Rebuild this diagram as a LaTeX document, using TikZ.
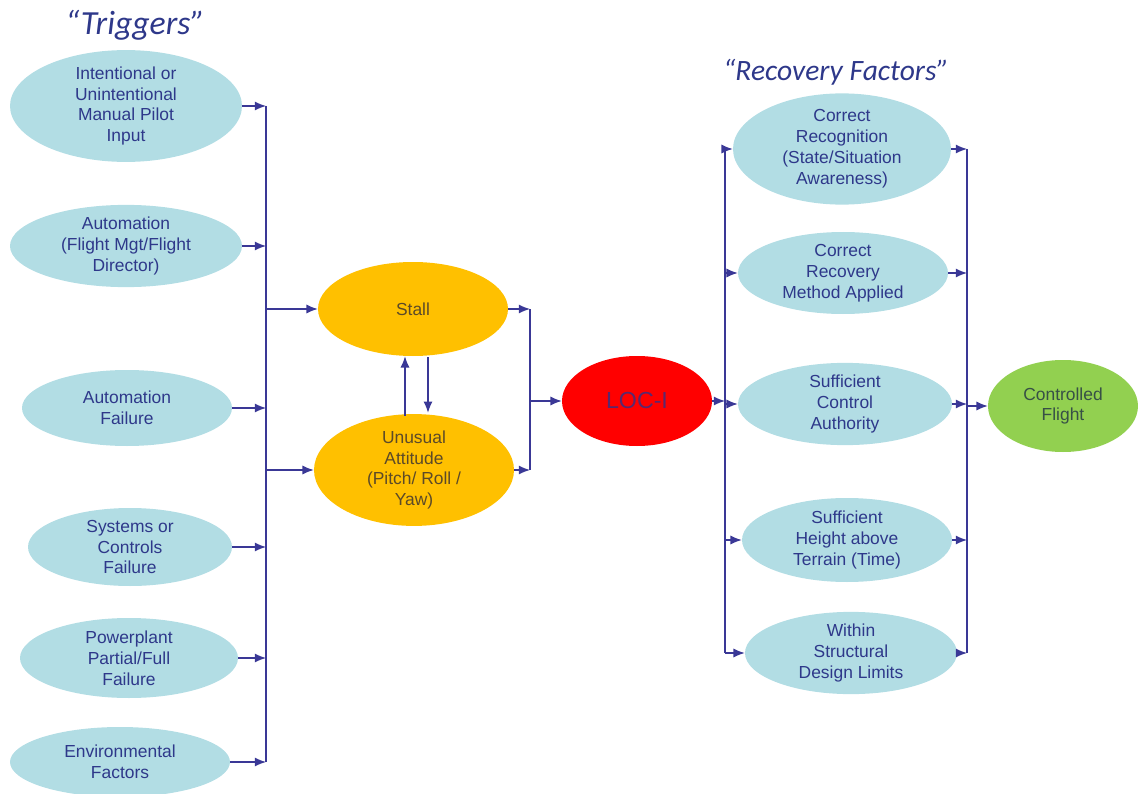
\documentclass[tikz,border=0pt]{standalone}
\usepackage{fontspec}
\setmainfont{Liberation Sans}
\newfontfamily\titlefont{Carlito}
\usetikzlibrary{shapes.geometric,arrows.meta,calc}

\definecolor{navy}{RGB}{46,56,138}
\definecolor{wire}{RGB}{58,56,150}
\definecolor{paleteal}{RGB}{178,221,228}
\definecolor{amber}{RGB}{255,192,0}
\definecolor{amberink}{RGB}{92,74,40}
\definecolor{locred}{RGB}{255,0,0}
\definecolor{locink}{RGB}{90,40,110}
\definecolor{leaf}{RGB}{146,208,80}
\definecolor{leafink}{RGB}{55,80,70}

\tikzset{
  oval/.style={ellipse, inner sep=0pt, align=center, font=\fontsize{12.4}{14.9}\selectfont},
  trig/.style={oval, fill=paleteal, text=navy},
  recov/.style={oval, fill=paleteal, text=navy},
  state/.style={oval, fill=amber, text=amberink},
  line/.style={wire, line width=0.9pt},
  arr/.style={line, -{Latex[length=8pt,width=6.5pt]}}
}

\begin{document}
\begin{tikzpicture}[x=0.025cm,y=-0.025cm]
  \useasboundingbox (0,0) rectangle (1138,794);

  % titles
  \node[text=navy, font=\titlefont\itshape\fontsize{24}{28}\selectfont] (ttrig) at (135,25) {“Triggers”};
  \node[text=navy, font=\titlefont\itshape\fontsize{21}{25}\selectfont] (trec) at (836,72) {“Recovery Factors”};

  % triggers
  \node[trig, minimum width=232*0.025cm, minimum height=84*0.025cm] (t1) at (126,106) {Intentional or\\Unintentional\\Manual Pilot\\Input};
  \node[trig, minimum width=232*0.025cm, minimum height=78*0.025cm] (t2) at (126,246) {Automation\\(Flight Mgt/Flight\\Director)};
  \node[trig, minimum width=210*0.025cm, minimum height=76*0.025cm] (t3) at (127,408) {Automation\\Failure};
  \node[trig, minimum width=204*0.025cm, minimum height=78*0.025cm] (t4) at (130,547) {Systems or\\Controls\\Failure};
  \node[trig, minimum width=218*0.025cm, minimum height=80*0.025cm] (t5) at (129,658) {Powerplant\\Partial/Full\\Failure};
  \node[trig, minimum width=220*0.025cm, minimum height=70*0.025cm] (t6) at (120,762) {Environmental\\Factors};

  % stall / unusual attitude
  \node[state, minimum width=190*0.025cm, minimum height=94*0.025cm] (stall) at (413,309) {Stall};
  \node[state, minimum width=200*0.025cm, minimum height=92*0.025cm] (ua) at (414,470) {Unusual\\Attitude\\(Pitch/ Roll /\\Yaw)};

  % loss of control
  \node[oval, fill=locred, text=locink, font=\fontsize{16.5}{19}\selectfont, minimum width=150*0.025cm, minimum height=90*0.025cm] (loc) at (637,401) {LOC-I};

  % recovery factors
  \node[recov, minimum width=218*0.025cm, minimum height=82*0.025cm] (r1) at (842,149) {Correct\\Recognition\\(State/Situation\\Awareness)};
  \node[recov, minimum width=210*0.025cm, minimum height=82*0.025cm] (r2) at (843,273) {Correct\\Recovery\\Method Applied};
  \node[recov, minimum width=214*0.025cm, minimum height=80*0.025cm] (r3) at (845,404) {Sufficient\\Control\\Authority};
  \node[recov, minimum width=210*0.025cm, minimum height=84*0.025cm] (r4) at (847,540) {Sufficient\\Height above\\Terrain (Time)};
  \node[recov, minimum width=212*0.025cm, minimum height=82*0.025cm] (r5) at (851,653) {Within\\Structural\\Design Limits};

  \node[oval, fill=leaf, text=leafink, minimum width=150*0.025cm, minimum height=92*0.025cm] (cf) at (1063,406) {Controlled\\Flight};

  % bus lines
  \coordinate (busL) at (266,0);
  \coordinate (busM) at (530,0);
  \coordinate (busR) at (725,0);
  \coordinate (busO) at (967,0);

  % triggers -> stall / unusual attitude
  \foreach \t in {t1,t2,t3,t4,t5,t6}
    \draw[arr] (\t.east) -- (\t.east -| busL);
  \draw[line] (t1.east -| busL) -- (t6.east -| busL);
  \draw[arr] (stall.west -| busL) -- (stall.west);
  \draw[arr] (ua.west -| busL) -- (ua.west);

  % stall <-> unusual attitude
  \draw[arr] ($(ua.north)+(-9,2)$) -- ($(stall.south)+(-8,0)$);
  \draw[arr] ($(stall.south)+(15,1)$) -- ($(ua.north)+(14,-1)$);

  % -> LOC-I
  \draw[arr] (stall.east) -- (stall.east -| busM);
  \draw[arr] (ua.east) -- (ua.east -| busM);
  \draw[line] (stall.east -| busM) -- (ua.east -| busM);
  \draw[arr] (loc.west -| busM) -- (loc.west);

  % LOC-I -> recovery factors
  \draw[arr] (loc.east) -- (loc.east -| busR);
  \draw[line] (r1.west -| busR) -- (r5.west -| busR);
  \foreach \r in {r1,r2,r3,r4,r5}
    \draw[arr] (\r.west -| busR) -- (\r.west);

  % recovery factors -> controlled flight
  \foreach \r in {r1,r2,r3,r4,r5}
    \draw[arr] (\r.east) -- (\r.east -| busO);
  \draw[line] (r1.east -| busO) -- (r5.east -| busO);
  \draw[arr] (cf.west -| busO) -- (cf.west);
\end{tikzpicture}
\end{document}
